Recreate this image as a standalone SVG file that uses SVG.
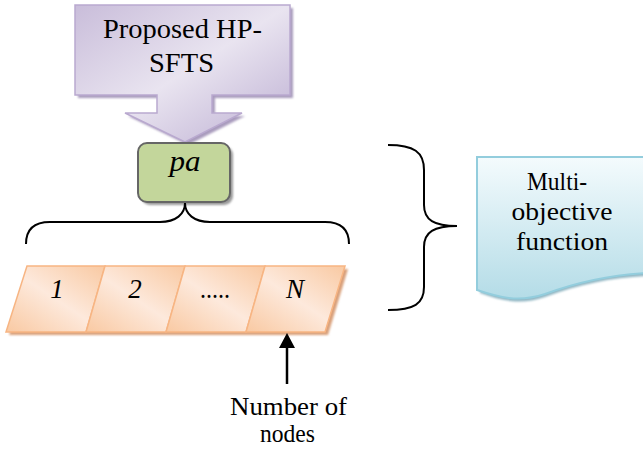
<svg xmlns="http://www.w3.org/2000/svg" width="643" height="454" viewBox="0 0 643 454">
  <defs>
    <linearGradient id="gPurple" x1="0" y1="0" x2="1" y2="1">
      <stop offset="0" stop-color="#c9bdda"/>
      <stop offset="0.5" stop-color="#e9e4f0"/>
      <stop offset="1" stop-color="#bcaed2"/>
    </linearGradient>
    <linearGradient id="gCell" x1="0" y1="1" x2="1" y2="0">
      <stop offset="0" stop-color="#f9c9a2"/>
      <stop offset="0.5" stop-color="#fde9dc"/>
      <stop offset="1" stop-color="#f9c9a2"/>
    </linearGradient>
    <linearGradient id="gDoc" x1="0" y1="0" x2="0" y2="1">
      <stop offset="0" stop-color="#f4fbfd"/>
      <stop offset="1" stop-color="#b4dce7"/>
    </linearGradient>
    <filter id="soft" x="-10%" y="-10%" width="130%" height="130%">
      <feGaussianBlur stdDeviation="1"/>
    </filter>
  </defs>
  <style>
    text { font-family: 'Liberation Serif', 'Times New Roman', serif; fill: #000; text-anchor: middle; }
    .ital { font-style: italic; }
    .brace { fill: none; stroke: #000; stroke-width: 2; }
    .cell { fill: url(#gCell); stroke: #f7b583; stroke-width: 1.5; }
    .cellShadow { fill: #d9a07a; }
  </style>

  <!-- Block arrow: Proposed HP-SFTS -->
  <g id="hpsfts">
    <path d="M78,8 H293 V98 H215 V116 H245 L188,145 L128,116 H160 V98 H78 Z" fill="#a99bbd" filter="url(#soft)"/>
    <path d="M75,5 H290 V95 H212 V113 H242 L185,142 L125,113 H157 V95 H75 Z" fill="url(#gPurple)" stroke="#b9a9cf" stroke-width="1.5"/>
    <text x="182.5" y="38" font-size="27" textLength="159" lengthAdjust="spacingAndGlyphs">Proposed HP-</text>
    <text x="181.5" y="72" font-size="27" textLength="65" lengthAdjust="spacingAndGlyphs">SFTS</text>
  </g>

  <!-- pa node -->
  <g id="pa">
    <rect x="141" y="146" width="92" height="59" rx="9" fill="#9a9a9a" filter="url(#soft)"/>
    <rect x="138" y="143" width="92" height="59" rx="9" fill="#c3d69b" stroke="#666" stroke-width="2"/>
    <text class="ital" x="185" y="171" font-size="29" textLength="31" lengthAdjust="spacingAndGlyphs">pa</text>
  </g>

  <!-- Node cells 1..N -->
  <g id="cells">
    <path class="cellShadow" d="M30,269 H348 L328,335 H9 Z" filter="url(#soft)"/>
    <path class="cell" d="M27,266 H105 L86,332 H6 Z"/>
    <path class="cell" d="M105,266 H185 L166,332 H86 Z"/>
    <path class="cell" d="M185,266 H265 L246,332 H166 Z"/>
    <path class="cell" d="M265,266 H345 L325,332 H246 Z"/>
    <text class="ital" x="57" y="298" font-size="27">1</text>
    <text class="ital" x="135" y="298" font-size="27">2</text>
    <text x="215" y="298" font-size="27" textLength="30" lengthAdjust="spacingAndGlyphs">.....</text>
    <text class="ital" x="295" y="298" font-size="27">N</text>
  </g>

  <!-- Multi-objective function document -->
  <g id="objective">
    <path d="M480,160 H646 V276 C610,278 580,284 545,297 C520,306 500,300 480,293 Z" fill="#8fb5c2" filter="url(#soft)"/>
    <path d="M477,157 H646 V273 C610,275 580,281 545,294 C518,303 498,297 477,290 Z" fill="url(#gDoc)" stroke="#93cddd" stroke-width="2"/>
    <text x="557" y="190" font-size="25" textLength="60" lengthAdjust="spacingAndGlyphs">Multi-</text>
    <text x="562" y="220" font-size="25" textLength="101" lengthAdjust="spacingAndGlyphs">objective</text>
    <text x="562" y="250" font-size="25" textLength="92" lengthAdjust="spacingAndGlyphs">function</text>
  </g>

  <!-- Number of nodes label -->
  <g id="label">
    <text x="288.5" y="415" font-size="25" textLength="117" lengthAdjust="spacingAndGlyphs">Number of</text>
    <text x="287.5" y="442" font-size="25" textLength="55" lengthAdjust="spacingAndGlyphs">nodes</text>
  </g>

  <!-- Connectors: braces and pointer arrow -->
  <g id="connectors">
    <path class="brace" d="M26,244 C26,230 34,222 50,222 H160 C176,222 185,214 185,203 C185,214 194,222 210,222 H325 C341,222 349,230 349,244"/>
    <path class="brace" d="M388,145 C414,145 424,152 424,170 V205 C424,220 434,226 457,226 C434,226 424,232 424,247 V287 C424,304 414,310 388,310"/>
    <line x1="287" y1="384" x2="287" y2="345" stroke="#000" stroke-width="2.5"/>
    <path d="M287,333 L295,348 H279 Z" fill="#000"/>
  </g>
</svg>
